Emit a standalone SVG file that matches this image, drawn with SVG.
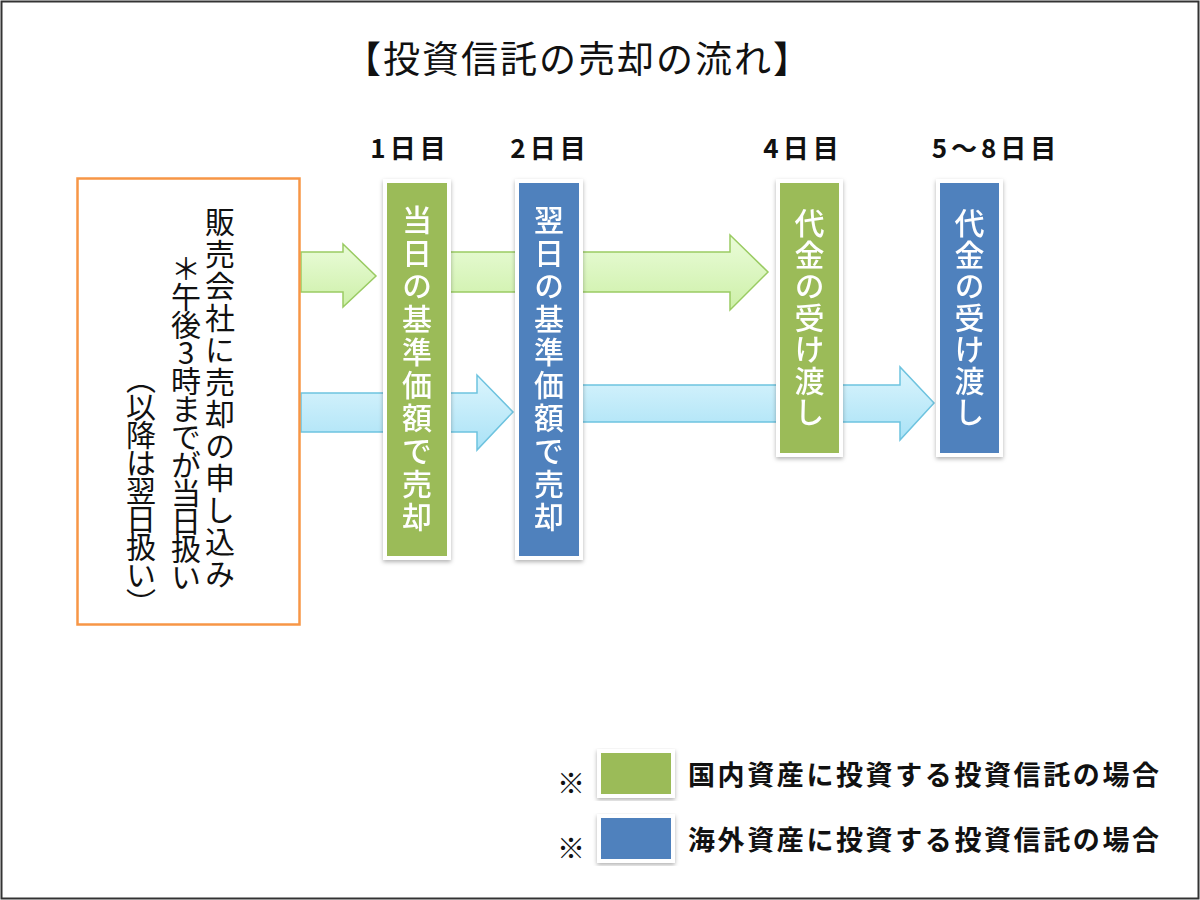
<svg xmlns="http://www.w3.org/2000/svg" width="1200" height="900" viewBox="0 0 1200 900">
<defs>
<linearGradient id="gGreen" x1="0" y1="0" x2="0" y2="1">
<stop offset="0" stop-color="#eafcd9"/>
<stop offset="1" stop-color="#cdf0a8"/>
</linearGradient>
<linearGradient id="gBlue" x1="0" y1="0" x2="0" y2="1">
<stop offset="0" stop-color="#dcf5fd"/>
<stop offset="1" stop-color="#a9e2f6"/>
</linearGradient>
<filter id="sh" x="-20%" y="-5%" width="140%" height="115%">
<feDropShadow dx="0" dy="2" stdDeviation="2" flood-color="#000" flood-opacity="0.3"/>
</filter>
</defs>
<style>
.jp{font-family:"Noto Sans CJK JP","Noto Sans CJK SC",sans-serif;}
.title{font-size:37px;fill:#111;letter-spacing:2px;}
.day{font-size:26px;font-weight:bold;fill:#111;letter-spacing:4px;}
.vt{writing-mode:vertical-rl;text-orientation:upright;}
.boxtxt{font-size:30px;fill:#fff;font-weight:500;}
.ordtxt{font-size:30px;fill:#111;}
.leg{font-size:27px;font-weight:bold;fill:#111;letter-spacing:2.6px;}
.green{fill:#9bbb59;stroke:#fff;stroke-width:4;}
.blue{fill:#4f81bd;stroke:#fff;stroke-width:4;}
.garrow{fill:url(#gGreen);stroke:#9acb63;stroke-width:1.5;}
.barrow{fill:url(#gBlue);stroke:#6ec3df;stroke-width:1.5;}
</style>
<rect x="0" y="0" width="1200" height="900" fill="#fff"/>
<rect x="1.5" y="1.5" width="1197" height="897" fill="none" stroke="#333" stroke-width="2"/>

<text class="jp title" x="578" y="73" text-anchor="middle">【投資信託の売却の流れ】</text>

<g id="day-labels">
<text class="jp day" x="410" y="158" text-anchor="middle">1日目</text>
<text class="jp day" x="550" y="158" text-anchor="middle">2日目</text>
<text class="jp day" x="803" y="158" text-anchor="middle">4日目</text>
<text class="jp day" x="996" y="158" text-anchor="middle">5〜8日目</text>
</g>

<g id="connectors">
<path class="garrow" d="M301,252 L343,252 L343,244 L376,276 L343,307 L343,292 L301,292 Z"/>
<path class="garrow" d="M449,252 L730,252 L730,235 L768,272 L730,310 L730,292 L449,292 Z"/>
<path class="barrow" d="M301,393 L477,393 L477,375 L513,412 L477,450 L477,432 L301,432 Z"/>
<path class="barrow" d="M581,385 L900,385 L900,367 L934,403 L900,440 L900,422 L581,422 Z"/>
</g>

<g id="order-box">
<rect x="77.5" y="178.5" width="222" height="446" fill="#fff" stroke="#f79646" stroke-width="2.5"/>
<text class="jp ordtxt vt" x="220" y="207" letter-spacing="2">販売会社に売却の申し込み</text>
<text class="jp ordtxt vt" x="186" y="254" font-size="29" letter-spacing="-2">＊午後3時までが当日扱い</text>
<text class="jp ordtxt vt" x="141" y="364" font-size="28" letter-spacing="-2">（以降は翌日扱い）</text>
</g>

<g id="day1-box" filter="url(#sh)">
<rect class="green" x="385" y="181" width="64" height="377"/>
<text class="jp boxtxt vt" x="417" y="205" letter-spacing="3">当日の基準価額で売却</text>
</g>

<g id="day2-box" filter="url(#sh)">
<rect class="blue" x="517" y="181" width="64" height="377"/>
<text class="jp boxtxt vt" x="549" y="205" letter-spacing="3">翌日の基準価額で売却</text>
</g>

<g id="day4-box" filter="url(#sh)">
<rect class="green" x="778" y="181" width="63" height="274"/>
<text class="jp boxtxt vt" x="809.5" y="208" letter-spacing="1.5">代金の受け渡し</text>
</g>

<g id="day5-8-box" filter="url(#sh)">
<rect class="blue" x="938" y="181" width="63" height="274"/>
<text class="jp boxtxt vt" x="969.5" y="208" letter-spacing="1.5">代金の受け渡し</text>
</g>

<g id="legend">
<text class="jp" x="571" y="794" font-size="28" fill="#111" text-anchor="middle">※</text>
<rect class="green" x="599" y="751" width="74" height="45" filter="url(#sh)"/>
<text class="jp leg" x="688" y="785">国内資産に投資する投資信託の場合</text>
<text class="jp" x="571" y="859" font-size="28" fill="#111" text-anchor="middle">※</text>
<rect class="blue" x="599" y="816" width="74" height="45" filter="url(#sh)"/>
<text class="jp leg" x="688" y="850">海外資産に投資する投資信託の場合</text>
</g>
</svg>
